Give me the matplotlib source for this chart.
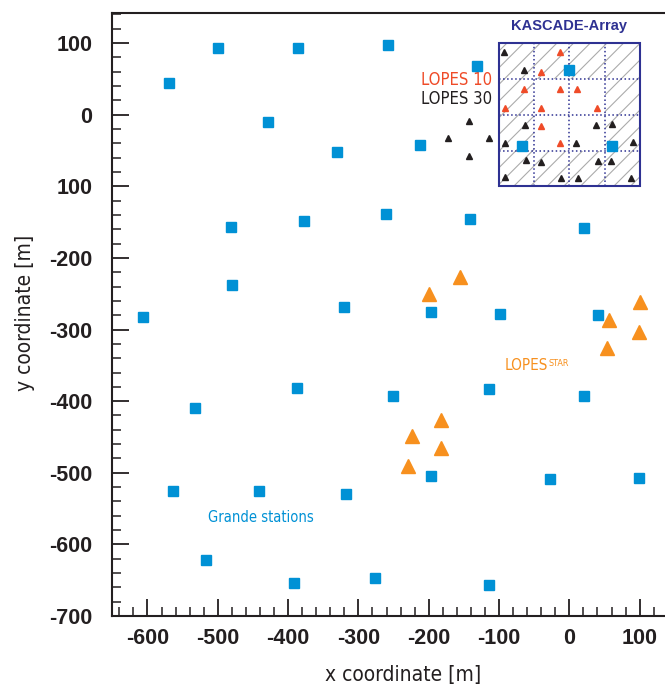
import matplotlib
matplotlib.use("Agg")
import matplotlib.pyplot as plt
from matplotlib import font_manager
from matplotlib.font_manager import FontProperties
from matplotlib.patches import Rectangle
from matplotlib.ticker import MultipleLocator, FixedLocator, FixedFormatter

# Grande stations (blue squares)
grande_x = [-500, -386, -258, -570, -428, -331, -212, -132, -1, -67, 61,
            -481, -378, -261, -142, 21, -606, -480, -321, -197, -98, 41,
            -388, -251, -115, 21, -533, -564, -442, -318, -197, -27, 99,
            -517, -391, -277, -115]
grande_y = [93, 93, 98, 44, -10, -52, -43, 68, 63, -44, -44,
            -157, -148, -138, -145, -158, -283, -238, -269, -276, -278, -280,
            -382, -393, -383, -393, -410, -526, -526, -529, -505, -509, -508,
            -622, -654, -647, -657]

# LOPES-STAR antennas (orange)
star_x = [-156, -199, 101, 57, 99, 54, -182, -224, -182, -229]
star_y = [-227, -250, -262, -287, -304, -326, -426, -449, -466, -490]

# LOPES 10 antennas (red)
lopes10_x = [-13, -40, -65, -14, 11, -92, -41, 39, -41, -13]
lopes10_y = [87, 60, 36, 36, 36, 9, 10, 10, -16, -40]

# additional LOPES 30 antennas (black)
lopes30_x = [-93, -64, -63, 38, 61, -92, 10, 90, -62, -41, 41, 59,
             -91, -12, 12, 88, -143, -172, -115, -143]
lopes30_y = [88, 62, -15, -15, -13, -39, -40, -38, -63, -66, -65, -65,
             -87, -89, -88, -89, -9, -33, -33, -58]

xtick_vals = [-600, -500, -400, -300, -200, -100, 0, 100]
xtick_labels = ["-600", "-500", "-400", "-300", "-200", "-100", "0", "100"]
ytick_vals = [100, 0, -100, -200, -300, -400, -500, -600, -700]
ytick_labels = ["100", "0", "100", "-200", "-300", "-400", "-500", "-600", "-700"]

# look for a condensed sans face, otherwise Roboto
narrow_file = None
for f in font_manager.fontManager.ttflist:
    n = f.name.lower()
    if ("narrow" in n or "condensed" in n or f.stretch in ("condensed", "semi-condensed")) \
            and f.style == "normal" and f.weight in (300, 400, "normal", "light") and "mono" not in n \
            and "serif" not in n:
        narrow_file = f.fname
        break


def narrow(size):
    if narrow_file:
        return FontProperties(fname=narrow_file, size=size)
    return FontProperties(family="Roboto", size=size * 0.9)


dark = "#231F20"
navy = "#2E3192"
plt.rcParams["hatch.linewidth"] = 0.8

fig = plt.figure(figsize=(6.65, 6.87), dpi=100)
ax = fig.add_axes([112.3 / 665, 71 / 687, (665 - 112.3) / 665, (616 - 13) / 687])
ax.set_xlim(-650, 136)
ax.set_ylim(-700, 142)

# KASCADE array box: hatched outer ring, white centre, dotted grid
ax.add_patch(Rectangle((-100, -100), 200, 200, facecolor="white", edgecolor="#ababab",
                       hatch="//", linewidth=0, zorder=1))
ax.add_patch(Rectangle((-50, -50), 100, 100, facecolor="white", edgecolor="none", zorder=1.5))
for g in [-50, 0, 50]:
    ax.plot([g, g], [-100, 100], color=navy, linestyle=":", linewidth=1.1, zorder=2)
    ax.plot([-100, 100], [g, g], color=navy, linestyle=":", linewidth=1.1, zorder=2)
ax.add_patch(Rectangle((-100, -100), 200, 200, facecolor="none", edgecolor=navy,
                       linewidth=1.5, zorder=2.5))

ax.plot(lopes30_x, lopes30_y, "^", color=dark, markersize=5, linestyle="none", zorder=3)
ax.plot(lopes10_x, lopes10_y, "^", color="#EF4B28", markersize=5, linestyle="none", zorder=3)
ax.plot(star_x, star_y, "^", color="#F7901E", markersize=9.5, linestyle="none", zorder=3)
ax.plot(grande_x, grande_y, "s", color="#0091D5", markersize=7.2, linestyle="none", zorder=4)

# annotations
ax.text(0, 124, "KASCADE-Array", color=navy, fontsize=10.5, fontweight="bold",
        family="Liberation Sans", ha="center", va="center")
ax.text(-160, 36, "LOPES 10", color="#EF4B28", fontproperties=narrow(12),
        ha="center", va="bottom")
ax.text(-160, 34, "LOPES 30", color=dark, fontproperties=narrow(12),
        ha="center", va="top")
ax.text(-439, -563, "Grande stations", color="#0091D5", fontproperties=narrow(10.5),
        ha="center", va="center")
ax.text(-30, -340, "LOPES", color="#F7901E", fontproperties=narrow(11), ha="right", va="top")
ax.text(-29, -341, "STAR", color="#F7901E", fontproperties=narrow(6.5), ha="left", va="top")

# axes styling
ax.spines["right"].set_visible(False)
for s in ["left", "bottom", "top"]:
    ax.spines[s].set_color(dark)
    ax.spines[s].set_linewidth(1.5)

ax.xaxis.set_major_locator(FixedLocator(xtick_vals))
ax.xaxis.set_major_formatter(FixedFormatter(xtick_labels))
ax.yaxis.set_major_locator(FixedLocator(ytick_vals))
ax.yaxis.set_major_formatter(FixedFormatter(ytick_labels))
ax.xaxis.set_minor_locator(MultipleLocator(20))
ax.yaxis.set_minor_locator(MultipleLocator(20))
ax.tick_params(which="both", direction="in", color=dark, top=False, right=False)
ax.tick_params(which="major", length=12.5, width=1.3)
ax.tick_params(which="minor", length=6.3, width=1.1)
ax.tick_params(axis="x", which="major", pad=8.5)
ax.tick_params(axis="y", which="major", pad=14.4)
for lab in ax.get_xticklabels() + ax.get_yticklabels():
    lab.set_fontfamily("Liberation Sans")
    lab.set_fontweight("bold")
    lab.set_fontsize(15.5)
    lab.set_color(dark)

fig.text(403 / 665, 1 - 675 / 687, "x coordinate [m]", fontproperties=narrow(15),
         color=dark, ha="center", va="center")
fig.text(25 / 665, 1 - 313 / 687, "y coordinate [m]", fontproperties=narrow(15),
         color=dark, ha="center", va="center", rotation=90)

fig.savefig("out.png", dpi=100)
